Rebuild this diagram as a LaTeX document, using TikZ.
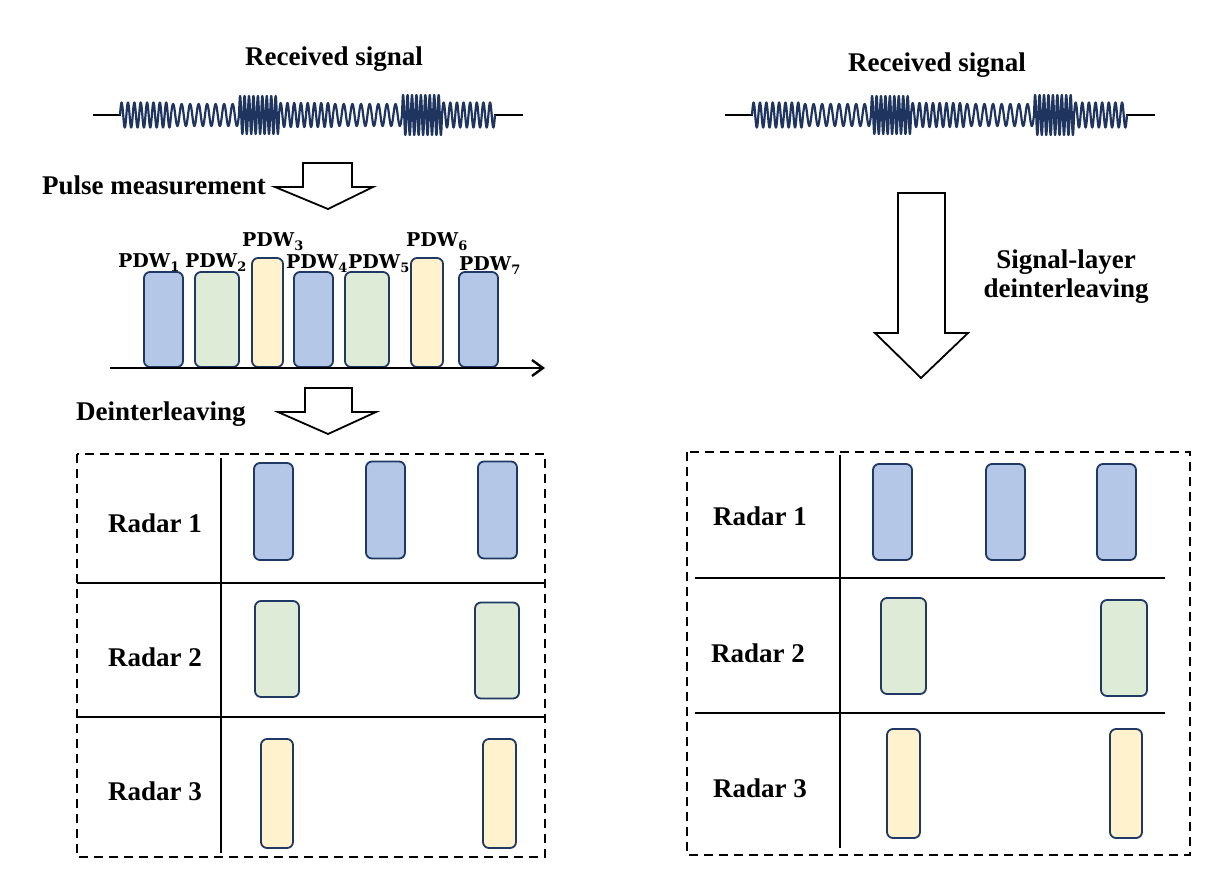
\documentclass[tikz,border=0pt]{standalone}
\usepackage{fontspec}
\setmainfont{Liberation Serif}
\newfontfamily\pdwfont{DejaVu Serif}
\usetikzlibrary{arrows.meta}
\definecolor{navy}{HTML}{203864}
\definecolor{wavec}{HTML}{1F3560}
\definecolor{pblue}{HTML}{B4C7E7}
\definecolor{pgreen}{HTML}{DEEBD7}
\definecolor{pyellow}{HTML}{FFF2CC}
\newcommand\pdwlab[1]{{\pdwfont\bfseries\fontsize{19}{20}\selectfont PDW\raisebox{-4pt}{\fontsize{13}{14}\selectfont #1}}}
\begin{document}
\begin{tikzpicture}[x=1pt,y=-1pt,
  lbl/.style={font=\fontsize{27}{30}\selectfont\bfseries, inner sep=0pt},
  pdw/.style={inner sep=0pt, anchor=base west},
  pbox/.style n args={3}{draw=navy, line width=1.8pt, rounded corners=6pt, inner sep=0pt, fill=#1, minimum width=#2, minimum height=#3},
  wave/.style={draw=wavec, line width=2.2pt, line join=round},
  lead/.style={draw=black, line width=1.8pt},
  barrow/.style={draw=black, fill=white, line width=1.8pt, line join=miter},
  tline/.style={draw=black, line width=2.8pt},
  dbox/.style={draw=black, line width=2.8pt, dash pattern=on 9pt off 6pt},
  axis/.style={draw=black, line width=2.6pt, -{Straight Barb[length=11pt,width=16pt,line width=2.4pt]}}]
\useasboundingbox (0,0) rectangle (1231,884);

% ---------- received signals ----------
\foreach \sx in {0,632}{
\begin{scope}[shift={(\sx,0)}]
  \draw[lead] (93,115) -- (121,115);
  \draw[lead] (494,115) -- (523,115);
  \draw[wave] (120,115)
    -- plot[domain=0:51,samples=161] ({120+\x},{115-12.5*sin(\x/6.375*360)})
    -- plot[domain=0:68,samples=161] ({171+\x},{115-11*sin(\x/8.5*360)})
    -- plot[domain=0:40,samples=241] ({239+\x},{115-19*sin(\x/4.444*360)})
    -- plot[domain=0:54,samples=161] ({279+\x},{115-12*sin(\x/6.75*360)})
    -- plot[domain=0:69,samples=161] ({333+\x},{115-11*sin(\x/8.625*360)})
    -- plot[domain=0:40,samples=241] ({402+\x},{115-20*sin(\x/4.444*360)})
    -- plot[domain=0:53,samples=161] ({442+\x},{115-12.5*sin(\x/6.625*360)});
\end{scope}}

\node[lbl, anchor=base west] (rs1) at (245,65) {Received signal};
\node[lbl, anchor=base west] (rs2) at (848,71) {Received signal};

% ---------- left: pulse measurement ----------
\node[lbl, anchor=base west] (pm) at (42,194) {Pulse measurement};
\draw[barrow] (303,163) -- (352,163) -- (352,187) -- (373,187) -- (328,209) -- (275,187) -- (303,187) -- cycle;

% PDW pulses
\node[pbox={pblue}{39pt}{95pt}]   (p1) at (163.5,319.5) {};
\node[pbox={pgreen}{44pt}{95pt}]  (p2) at (217,319.5) {};
\node[pbox={pyellow}{31pt}{109pt}] (p3) at (267.5,312.5) {};
\node[pbox={pblue}{39pt}{95pt}]   (p4) at (313.5,319.5) {};
\node[pbox={pgreen}{44pt}{95pt}]  (p5) at (367,319.5) {};
\node[pbox={pyellow}{32pt}{109pt}] (p6) at (427,312.5) {};
\node[pbox={pblue}{39pt}{95pt}]   (p7) at (478.5,319.5) {};

\coordinate (axs) at (110,368);
\coordinate (axe) at (545,368);
\draw[axis] (axs) -- (axe);

\node[pdw] (l1) at (118,267) {\pdwlab{1}};
\node[pdw] (l2) at (185,267) {\pdwlab{2}};
\node[pdw] (l3) at (242,246) {\pdwlab{3}};
\node[pdw] (l4) at (286,268) {\pdwlab{4}};
\node[pdw] (l5) at (348,268) {\pdwlab{5}};
\node[pdw] (l6) at (406,246) {\pdwlab{6}};
\node[pdw] (l7) at (459,270) {\pdwlab{7}};

% ---------- left: deinterleaving ----------
\node[lbl, anchor=base west] (di) at (76,420) {Deinterleaving};
\draw[barrow] (305,388) -- (352,388) -- (352,412) -- (376,412) -- (328,434) -- (278,412) -- (305,412) -- cycle;

\draw[dbox] (77,454) rectangle (545,857);
\draw[tline] (221,458) -- (221,853);
\draw[tline] (77,583) -- (545,583);
\draw[tline] (77,717) -- (545,717);

\node[lbl, anchor=base west] (lr1) at (108,532) {Radar 1};
\node[lbl, anchor=base west] (lr2) at (108,666) {Radar 2};
\node[lbl, anchor=base west] (lr3) at (108,800) {Radar 3};

\node[pbox={pblue}{39pt}{97pt}] (a11) at (273.5,511.5) {};
\node[pbox={pblue}{39pt}{97pt}] (a12) at (385.5,510) {};
\node[pbox={pblue}{39pt}{97pt}] (a13) at (497.5,510) {};
\node[pbox={pgreen}{44pt}{96pt}] (a21) at (277,649) {};
\node[pbox={pgreen}{44pt}{96pt}] (a22) at (497,650.5) {};
\node[pbox={pyellow}{32pt}{109pt}] (a31) at (277,793.5) {};
\node[pbox={pyellow}{33pt}{109pt}] (a32) at (499.5,793.5) {};

% ---------- right ----------
\draw[barrow] (898,193) -- (945,193) -- (945,333) -- (968,333) -- (921,378) -- (875,333) -- (898,333) -- cycle;
\node[lbl, align=center, anchor=base] (sl) at (1066,297) {Signal-layer\\[-1pt]deinterleaving};

\draw[dbox] (687,452) rectangle (1190,855);
\draw[tline] (840,455) -- (840,848);
\draw[tline] (695,578) -- (1165,578);
\draw[tline] (695,713) -- (1165,713);

\node[lbl, anchor=base west] (rr1) at (713,525) {Radar 1};
\node[lbl, anchor=base west] (rr2) at (711,662) {Radar 2};
\node[lbl, anchor=base west] (rr3) at (713,797) {Radar 3};

\node[pbox={pblue}{39pt}{96pt}] (b11) at (892.5,512) {};
\node[pbox={pblue}{39pt}{96pt}] (b12) at (1005.5,512) {};
\node[pbox={pblue}{39pt}{96pt}] (b13) at (1116.5,512) {};
\node[pbox={pgreen}{45pt}{96pt}] (b21) at (903.5,646) {};
\node[pbox={pgreen}{46pt}{96pt}] (b22) at (1124,648) {};
\node[pbox={pyellow}{33pt}{109pt}] (b31) at (903.5,783.5) {};
\node[pbox={pyellow}{32pt}{109pt}] (b32) at (1126,783.5) {};
\end{tikzpicture}
\end{document}
